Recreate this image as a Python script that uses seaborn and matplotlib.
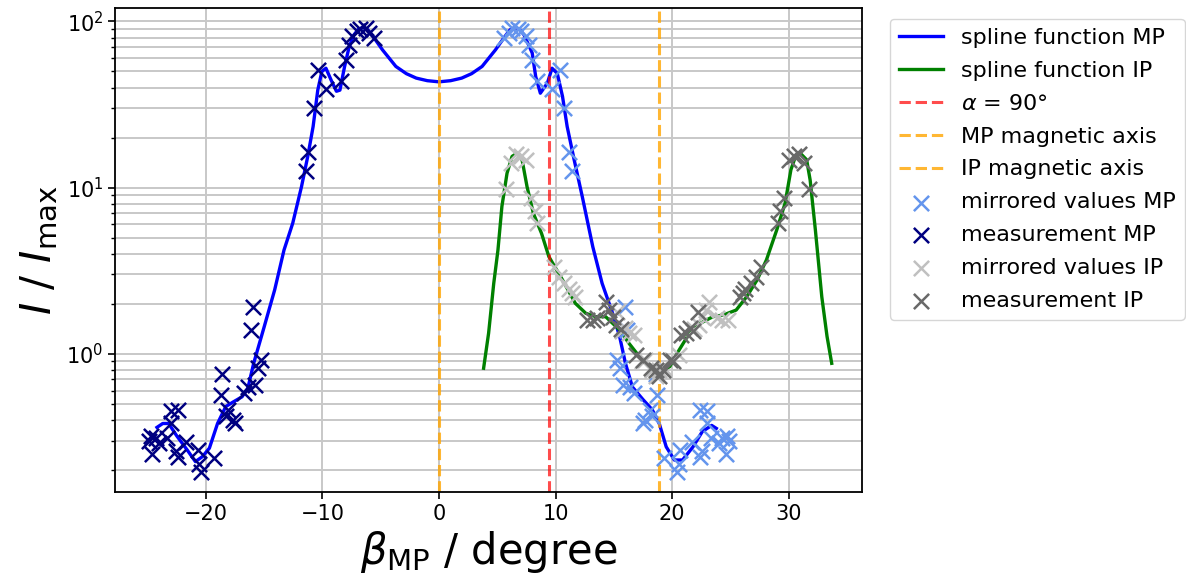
import matplotlib
matplotlib.use("Agg")
import matplotlib.pyplot as plt
import seaborn as sns

# ---------------- data ----------------
spline_mp_x = [-24.2, -23.7, -23.2, -22.5, -21.6, -20.9, -20.3, -19.7, -19.0, -18.3,
               -17.7, -16.9, -16.4, -15.9, -15.0, -14.1, -13.3, -12.55, -11.8, -11.26,
               -10.8, -10.4, -10.05, -9.7, -9.25, -8.8, -8.5, -8.1, -7.7, -7.3,
               -6.9, -6.5, -6.1, -5.7, -4.85, -3.7, -2.8, -1.95, -1.0, 0.0,
               1.0, 1.95, 2.8, 3.7, 4.85, 5.7, 6.1, 6.5, 6.9, 7.3,
               7.7, 8.0, 8.3, 8.7, 9.3, 9.7, 10.15, 10.6, 11.0, 11.6,
               12.3, 13.2, 14.0, 14.9, 15.5, 16.0, 16.6, 17.5, 18.3, 18.9,
               19.5, 20.2, 20.9, 21.8, 22.6, 23.4, 23.8]
spline_mp_y = [0.36, 0.38, 0.38, 0.32, 0.263, 0.224, 0.24, 0.27, 0.38, 0.48,
               0.51, 0.55, 0.62, 0.875, 1.45, 2.42, 4.2, 6.1, 10.1, 15.4,
               23.3, 38.6, 50.0, 52.3, 44.3, 38.0, 38.6, 53.5, 70.7, 83.0,
               90.0, 92.0, 89.0, 82.0, 67.5, 53.6, 48.5, 45.6, 44.0, 43.3,
               44.0, 45.6, 48.5, 53.6, 67.5, 82.0, 89.0, 92.0, 90.0, 83.0,
               72.0, 64.6, 46.6, 37.0, 42.5, 52.3, 48.7, 35.4, 23.3, 14.7,
               8.8, 4.4, 2.65, 1.75, 1.27, 0.875, 0.63, 0.53, 0.46, 0.38,
               0.275, 0.229, 0.229, 0.275, 0.34, 0.37, 0.355]

spline_ip_x = [3.83, 4.26, 4.7, 5.06, 5.4, 5.84, 6.27, 6.7, 7.13, 7.56,
               8.1, 8.8, 9.43, 10.6, 11.7, 12.6, 13.45, 14.3, 15.5, 16.3,
               17.2, 18.05, 18.9, 19.8, 20.6, 21.5, 22.4, 23.5, 24.4, 25.5,
               26.4, 27.3, 28.1, 29.0, 29.7, 30.2, 30.55, 31.0, 31.55, 31.85,
               32.3, 32.85, 33.3, 33.7]
spline_ip_y = [0.817, 1.33, 2.65, 4.2, 7.7, 12.2, 15.4, 16.1, 14.7, 10.1,
               7.0, 5.3, 3.84, 2.78, 2.01, 1.75, 1.67, 1.67, 1.39, 1.155,
               0.96, 0.835, 0.78, 0.835, 1.05, 1.33, 1.52, 1.67, 1.71, 1.83,
               2.2, 2.78, 3.67, 5.6, 8.05, 12.8, 15.1, 16.1, 14.7, 11.1,
               5.55, 2.2, 1.27, 0.875]

meas_mp_x = [-24.9, -24.7, -24.6, -24.3, -24.0, -23.3, -23.0, -23.0, -22.6, -22.4,
             -22.4, -21.7, -20.7, -20.6, -20.4, -19.3, -18.7, -18.6, -18.3, -18.1,
             -17.7, -17.5, -16.7, -16.4, -16.1, -16.0, -15.8, -15.5, -15.3, -11.4,
             -11.2, -10.7, -10.35, -9.7, -8.4, -8.0, -7.75, -7.5, -7.05, -6.75,
             -6.3, -6.0, -5.6]
meas_mp_y = [0.30, 0.32, 0.25, 0.31, 0.29, 0.31, 0.45, 0.38, 0.26, 0.46,
             0.24, 0.295, 0.263, 0.218, 0.195, 0.235, 0.564, 0.755, 0.42, 0.458,
             0.40, 0.38, 0.58, 0.63, 1.39, 1.9, 0.65, 0.82, 0.92, 12.5,
             16.3, 30.0, 50.7, 39.0, 44.0, 59.0, 72.0, 82.0, 87.0, 90.0,
             91.0, 85.0, 79.5]

mirr_mp_x = [24.9, 24.7, 24.6, 24.3, 24.0, 23.3, 23.0, 23.0, 22.6, 22.4,
             22.4, 21.7, 20.7, 20.6, 20.4, 19.3, 18.7, 18.6, 18.3, 18.1,
             17.7, 17.5, 16.7, 16.4, 16.1, 16.0, 15.8, 15.5, 15.3, 11.4,
             11.2, 10.7, 10.35, 9.7, 8.4, 8.0, 7.75, 7.5, 7.05, 6.75,
             6.3, 6.0, 5.6]
mirr_mp_y = [0.30, 0.32, 0.25, 0.31, 0.29, 0.31, 0.45, 0.38, 0.26, 0.46,
             0.24, 0.295, 0.263, 0.218, 0.195, 0.235, 0.564, 0.755, 0.42, 0.458,
             0.40, 0.38, 0.58, 0.63, 1.39, 1.9, 0.65, 0.82, 0.92, 12.5,
             16.3, 30.0, 50.7, 39.0, 44.0, 59.0, 72.0, 82.0, 87.0, 90.0,
             91.0, 85.0, 79.5]

meas_ip_x = [12.7, 13.2, 13.6, 14.3, 14.6, 14.9, 15.2, 15.6, 16.9, 17.5,
             18.2, 18.6, 18.9, 19.2, 19.8, 20.1, 20.8, 21.2, 21.5, 21.8,
             22.2, 25.8, 26.05, 26.3, 26.75, 27.2, 27.6, 29.05, 29.3, 29.6,
             30.0, 30.5, 30.9, 31.3, 31.75]
meas_ip_y = [1.6, 1.6, 1.65, 2.06, 1.83, 1.67, 1.49, 1.4, 0.98, 0.92,
             0.82, 0.8, 0.73, 0.8, 0.92, 0.9, 1.3, 1.33, 1.42, 1.36,
             1.79, 2.2, 2.31, 2.44, 2.66, 2.91, 3.34, 6.1, 7.2, 8.6,
             14.7, 15.4, 16.0, 14.0, 9.8]

mirr_ip_x = [24.8, 24.3, 23.9, 23.2, 22.9, 22.6, 22.3, 21.9, 20.6, 20.0,
             19.3, 18.9, 18.6, 18.3, 17.7, 17.4, 16.7, 16.3, 16.0, 15.7,
             15.3, 11.7, 11.45, 11.2, 10.75, 10.3, 9.9, 8.45, 8.2, 7.9,
             7.5, 7.0, 6.6, 6.2, 5.75]
mirr_ip_y = [1.6, 1.6, 1.65, 2.06, 1.83, 1.67, 1.49, 1.4, 0.98, 0.92,
             0.82, 0.8, 0.73, 0.8, 0.92, 0.9, 1.3, 1.33, 1.42, 1.36,
             1.79, 2.2, 2.31, 2.44, 2.66, 2.91, 3.34, 6.1, 7.2, 8.6,
             14.7, 15.4, 16.0, 14.0, 9.8]

alpha_90 = 9.43
mp_axis = 0.0
ip_axis = 18.86

# ---------------- figure ----------------
fig = plt.figure(figsize=(11.86, 5.83), dpi=100)
ax = fig.add_axes([115 / 1186, 1 - 492 / 583, (862 - 115) / 1186, (492 - 8) / 583])

sns.lineplot(x=spline_mp_x, y=spline_mp_y, ax=ax, color="blue", lw=2.4,
             label="spline function MP", estimator=None, sort=False)
sns.lineplot(x=spline_ip_x, y=spline_ip_y, ax=ax, color="green", lw=2.4,
             label="spline function IP", estimator=None, sort=False)
ax.axvline(alpha_90, color="red", alpha=0.7, ls="--", lw=2.2, label=r"$\alpha$ = 90°")
ax.axvline(mp_axis, color="orange", alpha=0.8, ls="--", lw=2.2, label="MP magnetic axis")
ax.axvline(ip_axis, color="orange", alpha=0.8, ls="--", lw=2.2, label="IP magnetic axis")

sk = dict(marker="x", s=120, linewidth=1.8, zorder=3, ax=ax)
sns.scatterplot(x=mirr_mp_x, y=mirr_mp_y, color="cornflowerblue", label="mirrored values MP", **sk)
sns.scatterplot(x=meas_mp_x, y=meas_mp_y, color="navy", label="measurement MP", **sk)
sns.scatterplot(x=mirr_ip_x, y=mirr_ip_y, color="silver", label="mirrored values IP", **sk)
sns.scatterplot(x=meas_ip_x, y=meas_ip_y, color="dimgray", label="measurement IP", **sk)

ax.set_yscale("log")
ax.set_xlim(-27.8, 36.3)
ax.set_ylim(0.147, 120.5)
ax.set_xticks([-20, -10, 0, 10, 20, 30])

ax.grid(True, which="major", axis="x", color="#c8c8c8", lw=1.4)
ax.grid(True, which="both", axis="y", color="#c8c8c8", lw=1.4)
ax.set_axisbelow(True)

for sp in ax.spines.values():
    sp.set_linewidth(1.3)
    sp.set_color("black")
ax.tick_params(axis="both", which="major", labelsize=15, length=5, width=1.2)
ax.tick_params(axis="y", which="minor", length=3, width=1.0)

ax.set_xlabel(r"$\beta_\mathrm{MP}$ / degree", fontsize=30)
ax.set_ylabel(r"$I$ / $I_\mathrm{max}$", fontsize=30)

leg = ax.legend(loc="upper left", bbox_to_anchor=(890 / 1186, 1 - 19 / 583),
                bbox_transform=fig.transFigure, borderaxespad=0, fontsize=16,
                frameon=True, labelspacing=0.58)
leg.get_frame().set_edgecolor("#cccccc")

fig.savefig("out.png", dpi=100)
